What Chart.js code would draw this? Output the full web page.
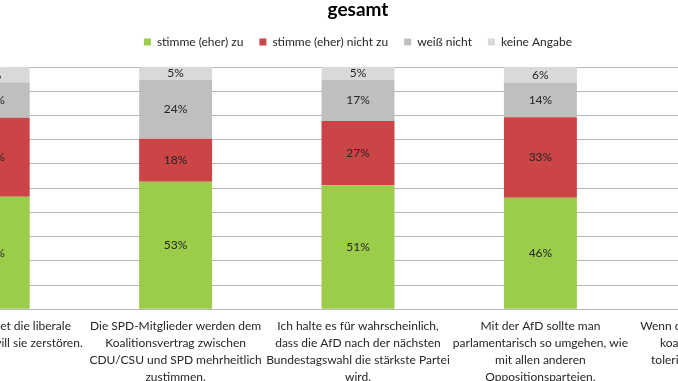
<!DOCTYPE html>
<html>
<head>
<meta charset="utf-8">
<script src="https://cdn.jsdelivr.net/npm/chart.js@4.4.1/dist/chart.umd.min.js"></script>
<style>
  html, body { margin: 0; padding: 0; background: #ffffff; overflow: hidden; }
  body { width: 678px; height: 381px; position: relative; }
  #wrap { position: absolute; left: -134px; top: 0; width: 948px; height: 390px; }
</style>
</head>
<body>
<div id="wrap"><canvas id="c"></canvas></div>
<script>
const chartTitle = 'gesamt';
const categories = [
  ['Die AfD verachtet die liberale', 'Demokratie und will sie zerstören.'],
  ['Die SPD-Mitglieder werden dem', 'Koalitionsvertrag zwischen', 'CDU/CSU und SPD mehrheitlich', 'zustimmen.'],
  ['Ich halte es für wahrscheinlich,', 'dass die AfD nach der nächsten', 'Bundestagswahl die stärkste Partei', 'wird.'],
  ['Mit der AfD sollte man', 'parlamentarisch so umgehen, wie', 'mit allen anderen', 'Oppositionsparteien.'],
  ['Wenn die Union keinen Partner', 'koalieren kann, soll SPD', 'tolerieren statt Neuwahlen.']
];
const seriesNames = ['stimme (eher) zu', 'stimme (eher) nicht zu', 'weiß nicht', 'keine Angabe'];
const zustimmen   = [46.4, 52.6, 51.2, 46.0, null];
const nichtZu     = [32.7, 17.8, 26.5, 33.3, null];
const weissNicht  = [14.6, 24.3, 16.9, 14.3, null];
const keineAngabe = [6.3, 5.3, 5.4, 6.4, null];
const seriesColors = ['#9BCC4A', '#CB4446', '#BFBFBF', '#D9D9D9'];
const yTicks = [0, 10, 20, 30, 40, 50, 60, 70, 80, 90, 100];

const FONT = 'Lato, "Liberation Sans", sans-serif';

const valueLabels = {
  id: 'valueLabels',
  afterDatasetsDraw(chart) {
    const ctx = chart.ctx;
    ctx.save();
    ctx.font = '12px ' + FONT;
    ctx.fillStyle = '#262626';
    ctx.textAlign = 'center';
    ctx.textBaseline = 'middle';
    chart.data.datasets.forEach((ds, i) => {
      const meta = chart.getDatasetMeta(i);
      meta.data.forEach((bar, j) => {
        const v = ds.data[j];
        if (v === null || v === undefined) return;
        const y = (bar.y + bar.base) / 2;
        ctx.fillText(Math.round(v) + '%', bar.x, y);
      });
    });
    ctx.restore();
  }
};

// extra space below the legend row
const legendSpacer = {
  id: 'legendSpacer',
  afterInit(chart) {
    const lg = chart.legend;
    if (!lg || lg._spaced) return;
    const orig = lg.fit;
    lg.fit = function () { orig.call(this); this.height += 9; };
    lg._spaced = true;
  }
};

const allSeries = [zustimmen, nichtZu, weissNicht, keineAngabe];

new Chart(document.getElementById('c'), {
  type: 'bar',
  data: {
    labels: categories,
    datasets: allSeries.map((d, i) => ({
      label: seriesNames[i],
      data: d,
      backgroundColor: seriesColors[i],
      borderWidth: 0,
      barPercentage: 0.4,
      categoryPercentage: 1.0
    }))
  },
  options: {
    responsive: true,
    maintainAspectRatio: false,
    animation: false,
    layout: { padding: { left: 36, right: 0, top: 0, bottom: 0 } },
    plugins: {
      title: {
        display: true,
        text: chartTitle,
        color: '#000000',
        font: { family: FONT, size: 19, weight: 'bold', lineHeight: 1.0 },
        padding: { top: 0, bottom: 1 }
      },
      legend: {
        display: true,
        position: 'top',
        labels: {
          color: '#262626',
          font: { family: FONT, size: 12 },
          boxWidth: 7,
          boxHeight: 7,
          padding: 16
        }
      },
      tooltip: { enabled: false }
    },
    scales: {
      x: {
        stacked: true,
        grid: { display: false },
        border: { display: true, color: '#B7B7B7' },
        ticks: {
          color: '#262626',
          font: { family: FONT, size: 12, lineHeight: 1.42 },
          padding: 0,
          maxRotation: 0,
          autoSkip: false
        },
        afterFit(scale) {
          scale.paddingLeft = 0;
          scale.paddingRight = 0;
          scale.height = 80.7;
        }
      },
      y: {
        stacked: true,
        min: 0,
        max: 100,
        afterBuildTicks(scale) { scale.ticks = yTicks.map(v => ({ value: v })); },
        ticks: { display: false },
        grid: { color: '#B7B7B7', lineWidth: 1, drawTicks: false },
        border: { display: false },
        afterFit(scale) { scale.width = 0; }
      }
    }
  },
  plugins: [valueLabels, legendSpacer]
});
</script>
</body>
</html>
